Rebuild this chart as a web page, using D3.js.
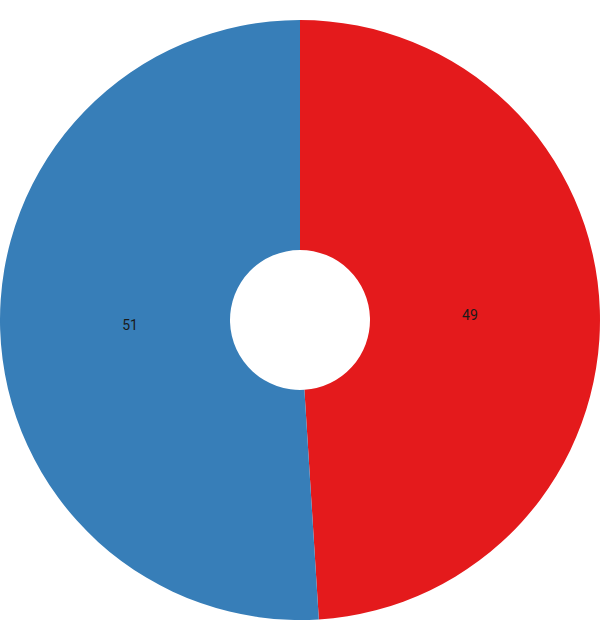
<!DOCTYPE html>
<html>
<head>
<meta charset="utf-8">
<script src="https://cdn.jsdelivr.net/npm/d3@7"></script>
<style>
  html, body { margin: 0; padding: 0; background: #fff; }
  svg { display: block; }
</style>
</head>
<body>
<svg id="chart" width="600" height="621"></svg>
<script>
const categories = ["A", "B"];
const values = [49, 51];
const colors = ["#e41a1c", "#377eb8"];

const width = 600, height = 621;
const cx = 300, cy = 320;
const outerR = 300, innerR = 70, labelR = 170;

const svg = d3.select("#chart");
const g = svg.append("g").attr("transform", `translate(${cx},${cy})`);

const data = categories.map((c, i) => ({ cat: c, value: values[i], color: colors[i] }));
const pie = d3.pie().value(d => d.value).sort(null);
const arcs = pie(data);

const arc = d3.arc().innerRadius(innerR).outerRadius(outerR);
const labelArc = d3.arc().innerRadius(labelR).outerRadius(labelR);

g.selectAll("path.slice")
  .data(arcs)
  .join("path")
  .attr("class", "slice")
  .attr("d", arc)
  .attr("fill", d => d.data.color);

g.selectAll("text.lbl")
  .data(arcs)
  .join("text")
  .attr("class", "lbl")
  .attr("transform", d => `translate(${labelArc.centroid(d)})`)
  .attr("text-anchor", "middle")
  .attr("dy", "0.35em")
  .attr("font-family", "Roboto, sans-serif")
  .attr("font-size", "14px")
  .attr("fill", "#1a1a1a")
  .text(d => d.data.value);
</script>
</body>
</html>
